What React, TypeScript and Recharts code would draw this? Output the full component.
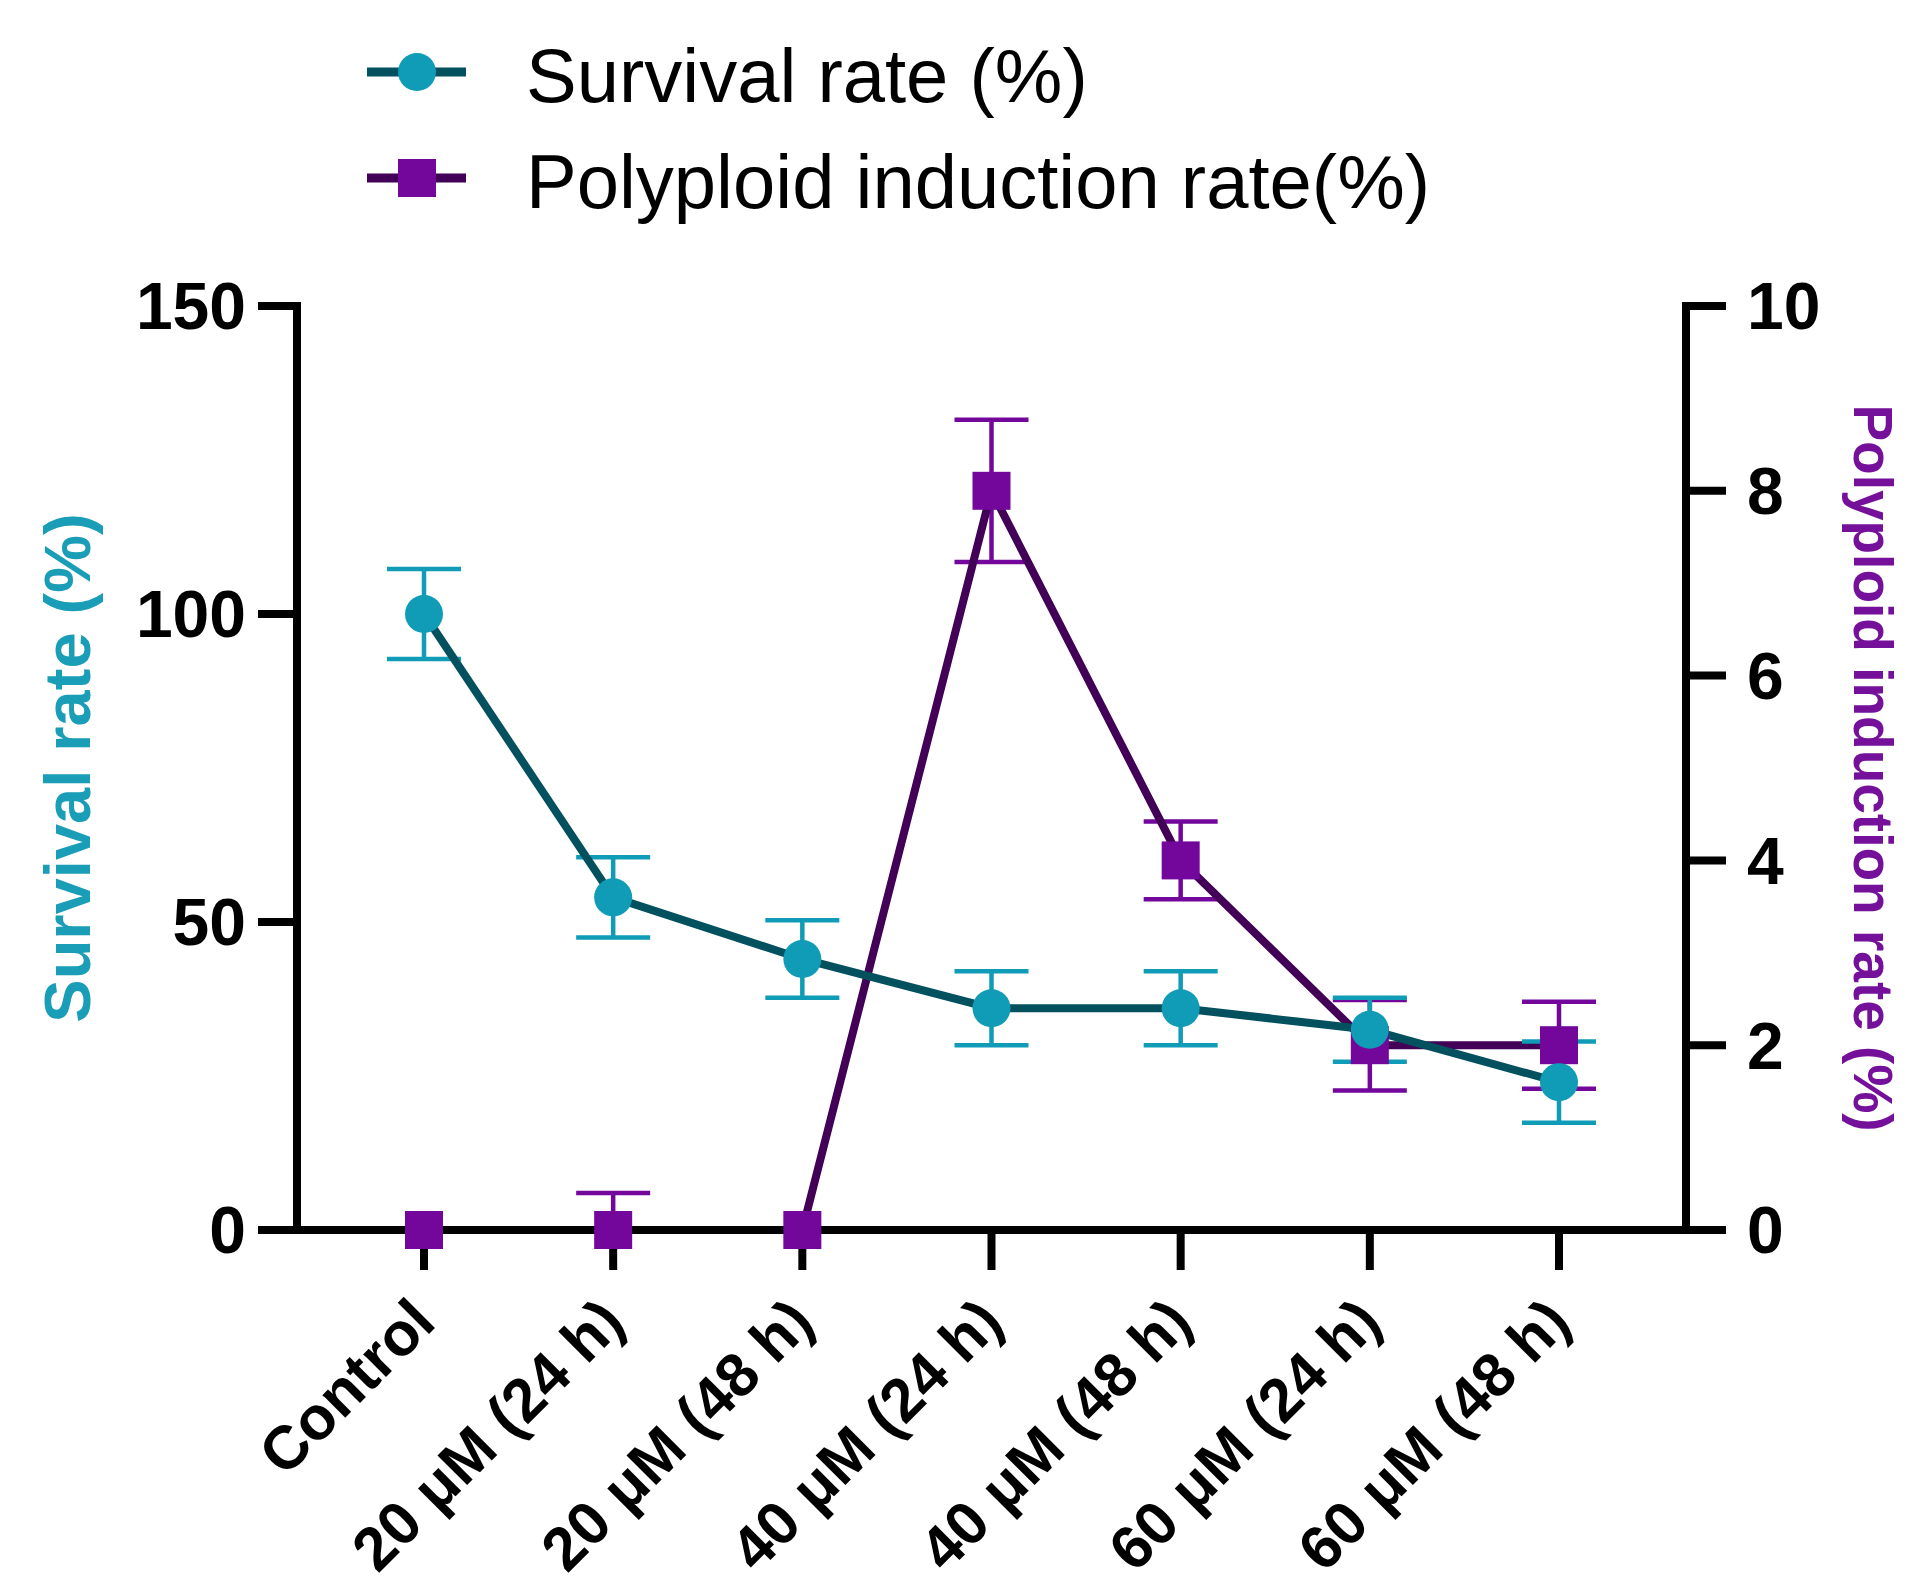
import React from 'react';
import { LineChart, Line, XAxis, YAxis, ErrorBar, Legend, Label } from 'recharts';

// values
const categories = [
  'Control',
  '20 μM (24 h)',
  '20 μM (48 h)',
  '40 μM (24 h)',
  '40 μM (48 h)',
  '60 μM (24 h)',
  '60 μM (48 h)',
];
const survivalRate = [100, 54, 44, 36, 36, 32.5, 24];
const survivalSd = [7.3, 6.5, 6.3, 6, 6, 5.2, 6.6];
const polyploidRate = [0, 0, 0, 8, 4, 2, 2];
// [below, above]
const polyploidSd = [
  [0, 0],
  [0, 0.4],
  [0, 0],
  [0.77, 0.77],
  [0.42, 0.42],
  [0.49, 0.49],
  [0.47, 0.47],
];
const leftTicks = [0, 50, 100, 150];
const rightTicks = [0, 2, 4, 6, 8, 10];

const TEAL_DOT = '#109bb6';
const TEAL_LINE = '#03505f';
const TEAL_TEXT = '#1a9db6';
const PURPLE_DOT = '#73079b';
const PURPLE_LINE = '#420056';
const PURPLE_TEXT = '#74109a';
const FONT = '"Liberation Sans", Arial, Helvetica, sans-serif';

const data = categories.map((name, i) => ({
  name,
  survival: survivalRate[i],
  survivalErr: survivalSd[i],
  polyploid: polyploidRate[i],
  polyploidErr: polyploidSd[i],
}));

const legendItems = [
  { name: 'Survival rate (%)', shape: 'circle', dot: TEAL_DOT, line: TEAL_LINE },
  { name: 'Polyploid induction rate(%)', shape: 'square', dot: PURPLE_DOT, line: PURPLE_LINE },
];

function LegendBox() {
  return (
    <svg width={1600} height={240} style={{ display: 'block', overflow: 'visible' }}>
      {legendItems.map((item, i) => {
        const cy = 64 + i * 106;
        return (
          <g key={item.name}>
            <line x1={359} x2={458} y1={cy} y2={cy} stroke={item.line} strokeWidth={9} />
            {item.shape === 'circle' ? (
              <circle cx={409} cy={cy} r={19} fill={item.dot} />
            ) : (
              <rect x={390} y={cy - 19} width={38} height={38} fill={item.dot} />
            )}
            <text x={518} y={cy + 30} fontSize={76} fontFamily={FONT} fill="#000">
              {item.name}
            </text>
          </g>
        );
      })}
    </svg>
  );
}

function CategoryTick({ x, y, payload }: any) {
  return (
    <g transform={`translate(${x + 14},${y + 55})`}>
      <text
        transform="rotate(-45)"
        textAnchor="end"
        fontSize={61}
        fontWeight={700}
        fontFamily={FONT}
        fill="#000"
      >
        {payload.value}
      </text>
    </g>
  );
}

const renderCircle = (props: any) => (
  <circle key={`c-${props.index}`} cx={props.cx} cy={props.cy} r={19} fill={TEAL_DOT} />
);

const renderSquare = (props: any) => (
  <rect
    key={`s-${props.index}`}
    x={props.cx - 19}
    y={props.cy - 19}
    width={38}
    height={38}
    fill={PURPLE_DOT}
  />
);

const axisLine = { stroke: '#000', strokeWidth: 8, strokeLinecap: 'square' as const };
const tickLine = { stroke: '#000', strokeWidth: 8 };
const yTick = { fontSize: 66, fontWeight: 700, fill: '#000', fontFamily: FONT };

export default function App() {
  return (
    <div style={{ width: 1904, height: 1575, background: '#fff' }}>
      <LineChart
        width={1904}
        height={1575}
        data={data}
        margin={{ top: 298, right: 0, bottom: 0, left: 0 }}
      >
        <XAxis
          dataKey="name"
          height={353}
          padding={{ left: 127, right: 127 }}
          interval={0}
          tickSize={40}
          tickMargin={0}
          axisLine={axisLine}
          tickLine={tickLine}
          tick={<CategoryTick />}
        />
        <YAxis
          yAxisId="left"
          width={289}
          domain={[0, 150]}
          ticks={leftTicks}
          interval={0}
          tickSize={39}
          tickMargin={12}
          axisLine={axisLine}
          tickLine={tickLine}
          tick={yTick}
        >
          <Label
            content={(props: any) => {
              const vb = props.viewBox;
              const cx = vb.x + 82;
              const cy = vb.y + vb.height / 2;
              return (
                <text
                  x={cx}
                  y={cy}
                  transform={`rotate(-90, ${cx}, ${cy})`}
                  textAnchor="middle"
                  fontSize={65}
                  fontWeight={700}
                  fontFamily={FONT}
                  fill={TEAL_TEXT}
                >
                  Survival rate (%)
                </text>
              );
            }}
          />
        </YAxis>
        <YAxis
          yAxisId="right"
          orientation="right"
          width={226}
          domain={[0, 10]}
          ticks={rightTicks}
          interval={0}
          tickSize={40}
          tickMargin={21}
          axisLine={axisLine}
          tickLine={tickLine}
          tick={yTick}
        >
          <Label
            content={(props: any) => {
              const vb = props.viewBox;
              const cx = vb.x + 168;
              const cy = vb.y + vb.height / 2;
              return (
                <text
                  x={cx}
                  y={cy}
                  transform={`rotate(90, ${cx}, ${cy})`}
                  textAnchor="middle"
                  fontSize={55}
                  fontWeight={700}
                  fontFamily={FONT}
                  fill={PURPLE_TEXT}
                >
                  Polyploid induction rate (%)
                </text>
              );
            }}
          />
        </YAxis>
        <Legend
          layout="horizontal"
          verticalAlign="middle"
          align="center"
          wrapperStyle={{ top: 0, left: 0, width: 1600, height: 240, margin: 0 }}
          content={() => <LegendBox />}
        />
        <Line
          yAxisId="right"
          type="linear"
          dataKey="polyploid"
          name="Polyploid induction rate(%)"
          stroke={PURPLE_LINE}
          strokeWidth={8}
          dot={renderSquare}
          activeDot={false}
          isAnimationActive={false}
        >
          <ErrorBar dataKey="polyploidErr" direction="y" width={37} strokeWidth={4.5} stroke={PURPLE_DOT} />
        </Line>
        <Line
          yAxisId="left"
          type="linear"
          dataKey="survival"
          name="Survival rate (%)"
          stroke={TEAL_LINE}
          strokeWidth={8}
          dot={renderCircle}
          activeDot={false}
          isAnimationActive={false}
        >
          <ErrorBar dataKey="survivalErr" direction="y" width={37} strokeWidth={4.5} stroke={TEAL_DOT} />
        </Line>
      </LineChart>
    </div>
  );
}
